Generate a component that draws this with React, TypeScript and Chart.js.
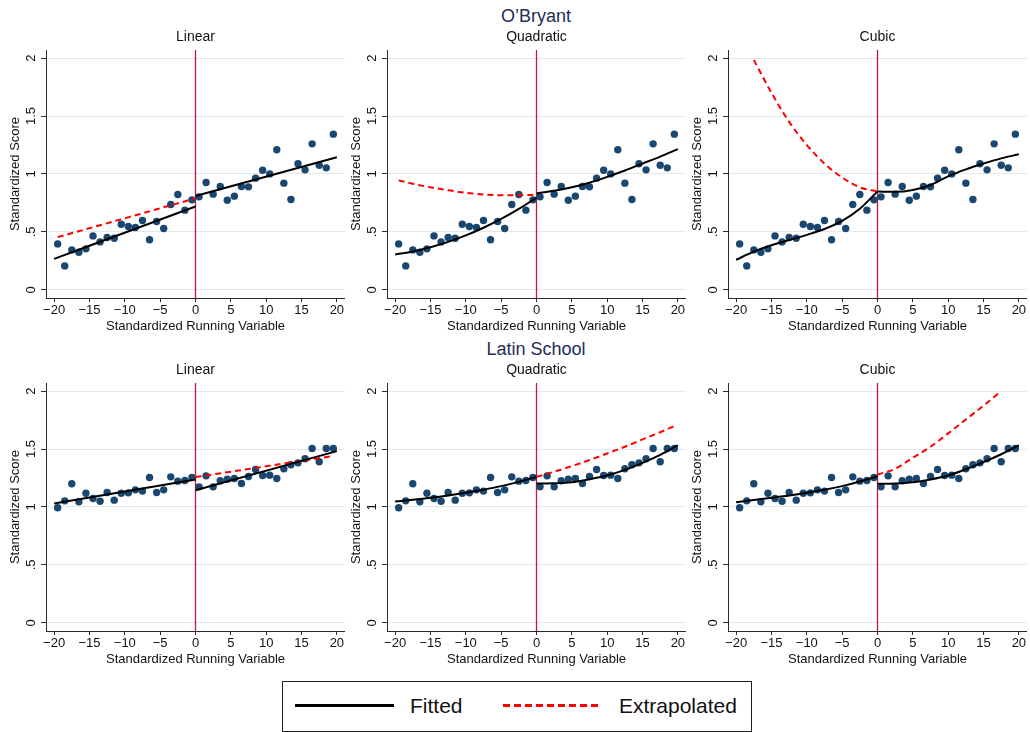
import React, { useEffect, useRef } from "react";
import { Chart, registerables } from "chart.js";

Chart.register(...registerables);

const FONT = '"Liberation Sans", Arial, Helvetica, sans-serif';
Chart.defaults.font.family = FONT;

// ---------- data ----------
const binCenters = [
  -19.5, -18.5, -17.5, -16.5, -15.5, -14.5, -13.5, -12.5, -11.5, -10.5,
  -9.5, -8.5, -7.5, -6.5, -5.5, -4.5, -3.5, -2.5, -1.5, -0.5,
  0.5, 1.5, 2.5, 3.5, 4.5, 5.5, 6.5, 7.5, 8.5, 9.5,
  10.5, 11.5, 12.5, 13.5, 14.5, 15.5, 16.5, 17.5, 18.5, 19.5,
];

const obryantScores = [
  0.397, 0.207, 0.345, 0.325, 0.354, 0.466, 0.414, 0.452, 0.446, 0.567,
  0.547, 0.538, 0.599, 0.432, 0.59, 0.53, 0.737, 0.823, 0.688, 0.777,
  0.803, 0.927, 0.826, 0.892, 0.774, 0.809, 0.892, 0.889, 0.964, 1.033,
  1.001, 1.209, 0.921, 0.78, 1.088, 1.036, 1.26, 1.076, 1.053, 1.344,
];

const latinScores = [
  0.993, 1.053, 1.2, 1.045, 1.119, 1.073, 1.05, 1.125, 1.059, 1.119,
  1.122, 1.148, 1.137, 1.255, 1.125, 1.148, 1.26, 1.223, 1.229, 1.255,
  1.174, 1.269, 1.174, 1.226, 1.24, 1.246, 1.203, 1.263, 1.324, 1.272,
  1.275, 1.246, 1.33, 1.364, 1.381, 1.416, 1.505, 1.39, 1.505, 1.505,
];

const linLeftX = [-20, 0];
const linRightX = [0, 20];
const curveLeftX = [-20, -17.5, -15, -12.5, -10, -7.5, -5, -2.5, 0];
const curveRightX = [0, 2.5, 5, 7.5, 10, 12.5, 15, 17.5, 20];

// O'Bryant
const obLinFitLeft = [0.268, 0.72];
const obLinFitRight = [0.81, 1.145];
const obLinExtrapX = [-19.5, 0];
const obLinExtrap = [0.455, 0.79];

const obQuadFitLeft = [0.305, 0.331, 0.368, 0.414, 0.47, 0.536, 0.612, 0.699, 0.795];
const obQuadFitRight = [0.832, 0.855, 0.885, 0.925, 0.975, 1.03, 1.09, 1.15, 1.215];
const obQuadExtrapX = [-19.5, -17.5, -15, -12.5, -10, -7.5, -5, -2.5, 0];
const obQuadExtrap = [0.945, 0.915, 0.885, 0.86, 0.838, 0.824, 0.816, 0.816, 0.822];

const obCubFitLeft = [0.26, 0.33, 0.385, 0.43, 0.475, 0.525, 0.595, 0.7, 0.85];
const obCubFitRight = [0.849, 0.846, 0.862, 0.905, 0.98, 1.04, 1.09, 1.135, 1.17];
const obCubExtrapX = [-17.5, -15, -12.5, -10, -7.5, -5, -2.5, 0];
const obCubExtrap = [1.985, 1.7, 1.45, 1.25, 1.09, 0.97, 0.885, 0.849];

// Latin School
const laLinFitLeft = [1.03, 1.237];
const laLinFitRight = [1.145, 1.482];
const laLinExtrapX = [0, 19.5];
const laLinExtrap = [1.258, 1.44];

const laQuadFitLeft = [1.047, 1.062, 1.079, 1.099, 1.122, 1.149, 1.18, 1.217, 1.26];
const laQuadFitRight = [1.203, 1.205, 1.214, 1.24, 1.272, 1.32, 1.381, 1.45, 1.531];
const laQuadExtrapX = [0, 2.5, 5, 7.5, 10, 12.5, 15, 17.5, 19.5];
const laQuadExtrap = [1.26, 1.305, 1.353, 1.405, 1.462, 1.52, 1.583, 1.645, 1.698];

const laCubFitLeft = [1.042, 1.06, 1.079, 1.099, 1.122, 1.148, 1.18, 1.22, 1.266];
const laCubFitRight = [1.2, 1.203, 1.214, 1.238, 1.272, 1.325, 1.387, 1.455, 1.531];
const laCubExtrapX = [0, 2.5, 5, 7.5, 10, 12.5, 15, 17.3];
const laCubExtrap = [1.28, 1.33, 1.425, 1.52, 1.635, 1.755, 1.875, 1.99];

const xTicks = [-20, -15, -10, -5, 0, 5, 10, 15, 20];
const yTicks = [0, 0.5, 1, 1.5, 2];
const yTickLabels = ["0", ".5", "1", "1.5", "2"];
const cutoff = 0;

const schoolTitles = ["O\u2019Bryant", "Latin School"];
const modelTitles = ["Linear", "Quadratic", "Cubic"];

// ---------- styles ----------
const NAVY = "#1a476f";
const CUTLINE = "#c4163f";
const GRID = "#e1e9ed";
const AXIS = "#2b2b2b";
const TEXT = "#111111";

type Series = { x: number[]; y: number[] };
type PanelDef = {
  row: number;
  col: number;
  title: string;
  scores: number[];
  fitLeft: Series;
  fitRight: Series;
  extrap: Series;
};

const panels: PanelDef[] = [
  { row: 0, col: 0, title: modelTitles[0], scores: obryantScores,
    fitLeft: { x: linLeftX, y: obLinFitLeft }, fitRight: { x: linRightX, y: obLinFitRight },
    extrap: { x: obLinExtrapX, y: obLinExtrap } },
  { row: 0, col: 1, title: modelTitles[1], scores: obryantScores,
    fitLeft: { x: curveLeftX, y: obQuadFitLeft }, fitRight: { x: curveRightX, y: obQuadFitRight },
    extrap: { x: obQuadExtrapX, y: obQuadExtrap } },
  { row: 0, col: 2, title: modelTitles[2], scores: obryantScores,
    fitLeft: { x: curveLeftX, y: obCubFitLeft }, fitRight: { x: curveRightX, y: obCubFitRight },
    extrap: { x: obCubExtrapX, y: obCubExtrap } },
  { row: 1, col: 0, title: modelTitles[0], scores: latinScores,
    fitLeft: { x: linLeftX, y: laLinFitLeft }, fitRight: { x: linRightX, y: laLinFitRight },
    extrap: { x: laLinExtrapX, y: laLinExtrap } },
  { row: 1, col: 1, title: modelTitles[1], scores: latinScores,
    fitLeft: { x: curveLeftX, y: laQuadFitLeft }, fitRight: { x: curveRightX, y: laQuadFitRight },
    extrap: { x: laQuadExtrapX, y: laQuadExtrap } },
  { row: 1, col: 2, title: modelTitles[2], scores: latinScores,
    fitLeft: { x: curveLeftX, y: laCubFitLeft }, fitRight: { x: curveRightX, y: laCubFitRight },
    extrap: { x: laCubExtrapX, y: laCubExtrap } },
];

const toPts = (s: Series) => s.x.map((x, i) => ({ x, y: s.y[i] }));
const fmtX = (v: number) => (v < 0 ? "\u2212" + Math.abs(v) : String(v));

const CANVAS_W = 345;
const CANVAS_H = 312;

const cutoffPlugin = {
  id: "cutoffLine",
  beforeDatasetsDraw(chart: any) {
    const { ctx, chartArea } = chart;
    const px = chart.scales.x.getPixelForValue(cutoff);
    ctx.save();
    ctx.strokeStyle = CUTLINE;
    ctx.lineWidth = 1.3;
    ctx.beginPath();
    ctx.moveTo(px, chartArea.top);
    ctx.lineTo(px, chartArea.bottom);
    ctx.stroke();
    ctx.restore();
  },
};

const yLabelPlugin = {
  id: "yRotLabels",
  afterDraw(chart: any) {
    const s = chart.scales.y;
    const ctx = chart.ctx;
    ctx.save();
    ctx.font = `13px ${FONT}`;
    ctx.fillStyle = TEXT;
    ctx.textAlign = "center";
    ctx.textBaseline = "middle";
    yTicks.forEach((v, i) => {
      const py = s.getPixelForValue(v);
      ctx.save();
      ctx.translate(s.right - 14.3, py);
      ctx.rotate(-Math.PI / 2);
      ctx.fillText(yTickLabels[i], 0, 0);
      ctx.restore();
    });
    ctx.restore();
  },
};

function Panel({ def }: { def: PanelDef }) {
  const ref = useRef<HTMLCanvasElement | null>(null);
  useEffect(() => {
    if (!ref.current) return;
    const lineBase = {
      type: "line" as const,
      pointRadius: 0,
      fill: false,
      cubicInterpolationMode: "monotone" as const,
    };
    const chart = new Chart(ref.current, {
      type: "scatter",
      data: {
        datasets: [
          { ...lineBase, data: toPts(def.fitLeft), borderColor: "#000", borderWidth: 2, order: 1 },
          { ...lineBase, data: toPts(def.fitRight), borderColor: "#000", borderWidth: 2, order: 1 },
          { ...lineBase, data: toPts(def.extrap), borderColor: "#ff0000", borderWidth: 2,
            borderDash: [6, 4], order: 2 },
          {
            type: "scatter",
            data: binCenters.map((x, i) => ({ x, y: def.scores[i] })),
            backgroundColor: NAVY,
            borderWidth: 0,
            pointRadius: 3.7,
            order: 3,
          },
        ] as any,
      },
      options: {
        animation: false,
        responsive: false,
        events: [],
        layout: { padding: 0, autoPadding: false },
        plugins: {
          legend: { display: false },
          tooltip: { enabled: false },
          title: {
            display: true,
            text: def.title,
            fullSize: false,
            color: TEXT,
            font: { size: 14, weight: "normal", family: FONT, lineHeight: 1.2 },
            padding: { top: 3, bottom: 4.2 },
          },
        },
        scales: {
          x: {
            type: "linear",
            min: -21.15,
            max: 21.15,
            afterBuildTicks: (s: any) => {
              s.ticks = xTicks.map((value) => ({ value }));
            },
            afterFit: (s: any) => {
              s.height = 40;
              s.paddingLeft = 0;
              s.paddingRight = 0;
            },
            ticks: {
              callback: (v: any) => fmtX(Number(v)),
              color: TEXT,
              font: { size: 13, family: FONT },
              padding: 1,
              maxRotation: 0,
              minRotation: 0,
              autoSkip: false,
            },
            grid: { drawOnChartArea: false, tickLength: 4, tickColor: AXIS, tickWidth: 1 },
            border: { display: true, color: AXIS, width: 1 },
            title: {
              display: true,
              text: "Standardized Running Variable",
              color: TEXT,
              font: { size: 13, family: FONT, lineHeight: 1.2 },
              padding: { top: 0, bottom: 3.5 },
            },
          },
          y: {
            type: "linear",
            min: -0.07,
            max: 2.07,
            afterBuildTicks: (s: any) => {
              s.ticks = yTicks.map((value) => ({ value }));
            },
            afterFit: (s: any) => {
              s.width = 46;
              s.paddingTop = 0;
              s.paddingBottom = 0;
            },
            ticks: { display: false },
            grid: { color: GRID, lineWidth: 1, tickLength: 5, tickColor: AXIS, tickWidth: 1 },
            border: { display: true, color: AXIS, width: 1 },
            title: {
              display: true,
              text: "Standardized Score",
              color: TEXT,
              font: { size: 13, family: FONT, lineHeight: 1.2 },
              padding: { top: 7.2, bottom: 0 },
            },
          },
        },
      } as any,
      plugins: [cutoffPlugin, yLabelPlugin],
    });
    return () => chart.destroy();
  }, [def]);

  return (
    <canvas
      ref={ref}
      width={CANVAS_W}
      height={CANVAS_H}
      style={{
        position: "absolute",
        left: 341 * def.col,
        top: 26 + 333 * def.row,
        width: CANVAS_W,
        height: CANVAS_H,
      }}
    />
  );
}

export default function App() {
  return (
    <div
      style={{
        position: "absolute",
        left: 0,
        top: 0,
        width: 1030,
        height: 732,
        background: "#fff",
        overflow: "hidden",
        fontFamily: FONT,
      }}
    >
      {schoolTitles.map((t, r) => (
        <div
          key={t}
          style={{
            position: "absolute",
            left: 386,
            width: 300,
            top: 7 + 333 * r,
            textAlign: "center",
            fontSize: 18,
            lineHeight: "18px",
            color: "#1e2d5a",
            whiteSpace: "nowrap",
          }}
        >
          {t}
        </div>
      ))}
      {panels.map((p, i) => (
        <Panel key={i} def={p} />
      ))}
      <div
        style={{
          position: "absolute",
          left: 282,
          top: 681,
          width: 470,
          height: 51,
          border: "1px solid #222",
          boxSizing: "border-box",
        }}
      >
        <svg width={468} height={49} style={{ position: "absolute", left: 0, top: 0 }}>
          <line x1={12} y1={23.5} x2={111} y2={23.5} stroke="#000" strokeWidth={3} />
          <line x1={220} y1={23.5} x2={318} y2={23.5} stroke="#ff0000" strokeWidth={3}
            strokeDasharray="7 4" />
        </svg>
        <span style={{ position: "absolute", left: 127, top: 13, fontSize: 21, lineHeight: "21px", color: TEXT }}>
          Fitted
        </span>
        <span style={{ position: "absolute", left: 336, top: 13, fontSize: 21, lineHeight: "21px", color: TEXT }}>
          Extrapolated
        </span>
      </div>
    </div>
  );
}
